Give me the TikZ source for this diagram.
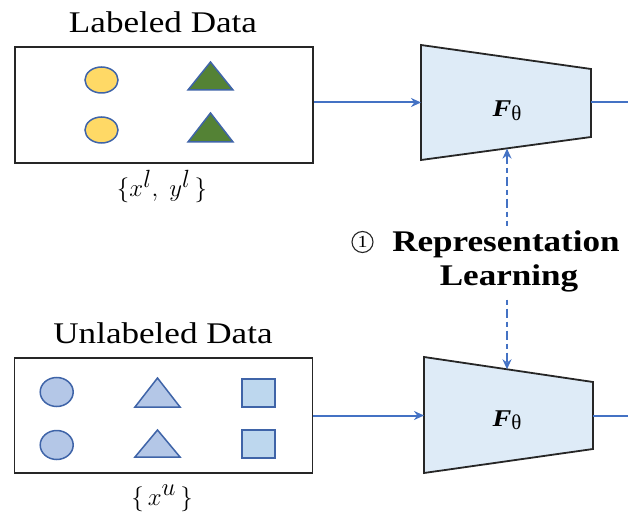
\documentclass[tikz,border=0pt]{standalone}
\usepackage{fontspec}
\setmainfont[FakeStretch=1.17]{Liberation Serif}
\newfontfamily\greekfont{Liberation Serif}
\usetikzlibrary{arrows.meta}
\definecolor{arrowblue}{HTML}{4472C4}
\definecolor{yellowfill}{HTML}{FFD966}
\definecolor{greenfill}{HTML}{548235}
\definecolor{shapeedge}{HTML}{3F64A8}
\definecolor{bluefill}{HTML}{B4C7E7}
\definecolor{squarefill}{HTML}{BDD7EE}
\definecolor{trapfill}{HTML}{DEEBF7}
\tikzset{
  databox/.style={draw=black!85, line width=1.9pt, minimum width=298pt, minimum height=116pt, inner sep=0pt},
  titletext/.style={anchor=base, font=\fontsize{30}{30}\selectfont, inner sep=0pt},
  settext/.style={anchor=base, font=\fontsize{34}{34}\selectfont, inner sep=0pt},
  shapeline/.style={draw=shapeedge, line width=1.5pt},
  trap/.style={draw=black!85, line width=1.8pt, fill=trapfill, line join=miter},
  flabel/.style={anchor=base, inner sep=0pt, font=\fontsize{24}{24}\selectfont},
  flow/.style={draw=arrowblue, line width=2pt, -{Stealth[length=10pt, width=9pt]}},
  flowout/.style={draw=arrowblue, line width=2pt},
  learn/.style={draw=arrowblue, line width=1.9pt, dash pattern=on 9pt off 4pt on 5pt off 4pt,
    {Stealth[length=10pt, width=9pt]}-{Stealth[length=10pt, width=9pt]}},
  boldtext/.style={anchor=base, font=\bfseries\fontsize{30}{30}\selectfont, fill=white, inner xsep=2pt, inner ysep=5pt},
  circnum/.style={circle, draw=black!85, line width=1.1pt, inner sep=0pt, minimum size=21pt, font=\fontsize{17}{17}\selectfont},
}
\newcommand{\ftheta}{\textbf{\textit{F}}\raisebox{-3.5pt}{\greekfont\fontsize{21}{21}\selectfont θ}}
\begin{document}
\begin{tikzpicture}[x=1pt, y=-1pt]
\useasboundingbox (0,0) rectangle (628,518);

% ---------- labeled data ----------
\node[titletext] (ltitle) at (163,33) {Labeled Data};
\node[databox] (topbox) at (164,105) {};
\draw[shapeline, fill=yellowfill] (101.5,80) ellipse [x radius=16.5, y radius=13];
\draw[shapeline, fill=yellowfill] (101.5,130) ellipse [x radius=16.5, y radius=13];
\draw[shapeline, fill=greenfill] (188,90) -- (210.5,62) -- (233,90) -- cycle;
\draw[shapeline, fill=greenfill] (188,142) -- (210.5,113) -- (233,142) -- cycle;
\node[settext] (lset) at (162,197) {$\{x^{l},\; y^{l}\,\}$};

% ---------- top encoder ----------
\draw[trap] (421,45) -- (591,69) -- (591,137) -- (421,160) -- cycle;
\coordinate (tin) at (421,102.5);
\coordinate (tout) at (591,102.5);
\coordinate (tbottom) at (507,148.6);
\coordinate (tedge) at (628,102.5);
\node[flabel] (ftop) at (507,117) {\ftheta};
\draw[flow] (topbox.east |- tin) -- (tin);
\draw[flowout] (tout) -- (tedge);

% ---------- unlabeled data ----------
\node[titletext] (utitle) at (163,343) {Unlabeled Data};
\node[databox, minimum height=115pt] (botbox) at (163.5,415.5) {};
\draw[shapeline, fill=bluefill] (56.7,392) ellipse [x radius=16.5, y radius=14.5];
\draw[shapeline, fill=bluefill] (56.7,445) ellipse [x radius=16.5, y radius=14.5];
\draw[shapeline, fill=bluefill] (135,407) -- (157.5,378) -- (180,407) -- cycle;
\draw[shapeline, fill=bluefill] (135,457) -- (157.5,430) -- (180,457) -- cycle;
\draw[shapeline, fill=squarefill] (242,379) rectangle (275,407);
\draw[shapeline, fill=squarefill] (242,430) rectangle (275,458);
\node[settext] (uset) at (162,505) {$\{\,x^{u}\,\}$};

% ---------- bottom encoder ----------
\draw[trap] (424,357) -- (593,382) -- (593,449) -- (424,473) -- cycle;
\coordinate (bin) at (424,415.5);
\coordinate (bout) at (593,415.5);
\coordinate (btop) at (507,369.3);
\coordinate (bedge) at (628,415.5);
\node[flabel] (fbot) at (507,426) {\ftheta};
\draw[flow] (botbox.east |- bin) -- (bin);
\draw[flowout] (bout) -- (bedge);

% ---------- representation learning ----------
\draw[learn] (tbottom) -- (btop);
\node[circnum] (circ) at (362.5,242) {1};
\node[boldtext] (rep) at (506,252) {Representation};
\node[boldtext] (lrn) at (509,285) {Learning};
\end{tikzpicture}
\end{document}
